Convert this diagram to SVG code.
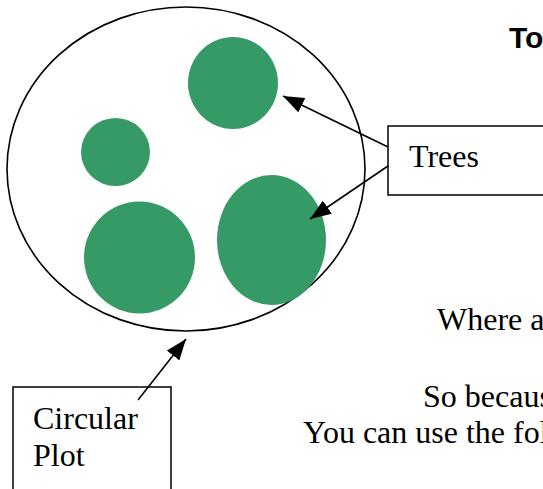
<svg xmlns="http://www.w3.org/2000/svg" width="543" height="489" viewBox="0 0 543 489">
<style>
.tree{fill:#369a67;stroke:none}
.box{fill:#fff;stroke:#000;stroke-width:1.5}
.lbl{font-family:"Liberation Serif","Times New Roman",serif;font-size:32px;fill:#000}
.conn{stroke:#000;stroke-width:1.6;fill:none;marker-end:url(#ah)}
</style>
<defs>
<marker id="ah" markerUnits="userSpaceOnUse" markerWidth="22" markerHeight="16" refX="21" refY="8" orient="auto">
<path d="M0,0 L21,8 L0,16 z" fill="#000"/>
</marker>
</defs>
<rect width="543" height="489" fill="#fff"/>
<g id="plot">
<ellipse cx="186" cy="169" rx="179" ry="162" fill="none" stroke="#000" stroke-width="1.6"/>
</g>
<g id="tree1"><ellipse class="tree" cx="233" cy="83" rx="45" ry="46"/></g>
<g id="tree2"><ellipse class="tree" cx="115.5" cy="152" rx="34.5" ry="34"/></g>
<g id="tree3"><ellipse class="tree" cx="139.5" cy="257.5" rx="55.5" ry="56"/></g>
<g id="tree4"><ellipse class="tree" cx="271.5" cy="240" rx="54.5" ry="65"/></g>
<g id="trees-label">
<rect class="box" x="388" y="126" width="170" height="69"/>
<text class="lbl" x="409" y="167">Trees</text>
</g>
<g id="circular-plot-label">
<rect class="box" x="13" y="387" width="158" height="110"/>
<text class="lbl" x="33" y="429">Circular</text>
<text class="lbl" x="33" y="466">Plot</text>
</g>
<g id="connectors">
<line class="conn" x1="388" y1="147" x2="283" y2="96"/>
<line class="conn" x1="388" y1="166" x2="310" y2="219"/>
<line class="conn" x1="138" y1="400" x2="186" y2="339"/>
</g>
<g id="text">
<text x="509" y="48" font-family="'Liberation Sans',Arial,sans-serif" font-weight="bold" font-size="30">To</text>
<text class="lbl" x="437" y="330">Where a</text>
<text class="lbl" x="423" y="407">So becaus</text>
<text class="lbl" x="303" y="443">You can use the fol</text>
</g>
</svg>
